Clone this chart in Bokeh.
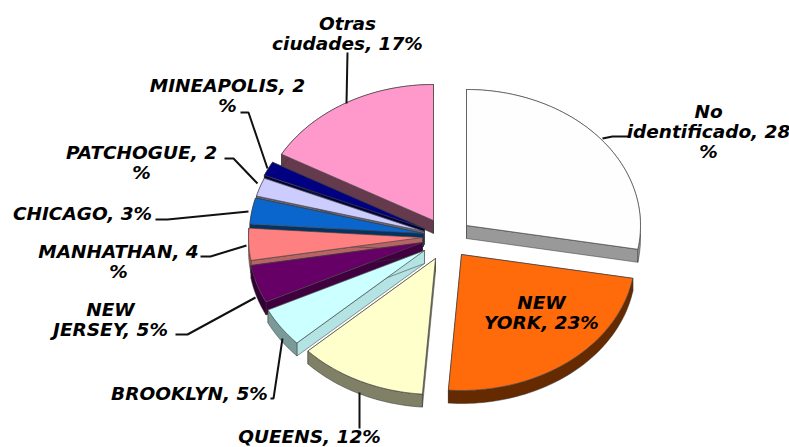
import numpy as np
from bokeh.plotting import figure
from bokeh.models import Range1d, ColumnDataSource
from bokeh.core.properties import value
from bokeh.embed import file_html
from bokeh.resources import INLINE

# data (clockwise from twelve o'clock); unrounded shares
categories = ["No identificado", "NEW YORK", "QUEENS", "BROOKLYN", "NEW JERSEY",
              "MANHATHAN", "CHICAGO", "PATCHOGUE", "MINEAPOLIS", "Otras ciudades"]
values = [27.8, 23.4, 11.9, 4.7, 4.5, 3.8, 3.1, 2.2, 1.7, 16.9]
labels = ["No\nidentificado, 28\n%", "NEW\nYORK, 23%", "QUEENS, 12%", "BROOKLYN, 5%",
          "NEW\nJERSEY, 5%", "MANHATHAN, 4\n%", "CHICAGO, 3%", "PATCHOGUE, 2\n%",
          "MINEAPOLIS, 2\n%", "Otras\nciudades, 17%"]

# style
face_colors = ["#FEFEFE", "#FF6A0A", "#FFFFCC", "#CCFFFF", "#660066",
               "#FF8080", "#0A66CC", "#CCCCFF", "#000080", "#FF99CC"]
side_colors = ["#999999", "#662A00", "#808066", "#7A9999", "#330033",
               "#A85A5A", "#003366", "#66667F", "#00003C", "#663A4D"]
edge_colors = ["#999999", "#662A00", "#808066", "#B3E3E3", "#400040",
               "#B86464", "#003366", "#66667F", "#00003C", "#663A4D"]
apex_x = [466, 461, 435, 424, 422, 422, 423, 424, 424, 433]
apex_y = [225, 254, 258, 250, 242, 237, 233, 231, 228, 220]
draw_order = [9, 8, 7, 6, 5, 4, 3, 2, 1, 0]
RX, RY, DEPTH = 174, 136, 13

label_x = [708, 541, 309, 189, 110, 118, 82, 141, 227, 347]
label_y = [131, 312, 436, 393, 319, 261, 213, 162, 95, 33]
leaders_x = [[602, 612, 628], [], [359, 359], [270, 273, 282], [175, 187, 255],
             [200, 210, 246], [155, 167, 248], [224, 233, 257], [240, 248, 267], [347, 346]]
leaders_y = [[138, 136, 136], [], [428, 392], [398, 398, 338], [334, 334, 297],
             [256, 256, 245], [219, 219, 211], [158, 158, 183], [112, 112, 168], [52, 103]]

p = figure(width=789, height=447, output_backend="svg", toolbar_location=None,
           x_range=Range1d(0, 789), y_range=Range1d(447, 0),
           min_border=0, outline_line_color=None, background_fill_color="white")
p.axis.visible = False
p.grid.visible = False

fractions = np.array(values, dtype=float) / sum(values)
ends = np.cumsum(fractions) * 2 * np.pi
starts = ends - fractions * 2 * np.pi

for i in draw_order:
    a = np.linspace(starts[i], ends[i], 60)
    arc_x = apex_x[i] + RX * np.sin(a)
    arc_y = apex_y[i] - RY * np.cos(a)
    px = np.r_[apex_x[i], arc_x]
    py = np.r_[apex_y[i], arc_y]
    # the two straight cut faces, then the rim
    for ex, ey in (([px[0], px[1]], [py[0], py[1]]), ([px[0], px[-1]], [py[0], py[-1]])):
        p.patch([ex[0], ex[1], ex[1], ex[0]], [ey[0], ey[1], ey[1] + DEPTH, ey[0] + DEPTH],
                fill_color=edge_colors[i], line_color="#333333", line_width=0.5)
    p.patch(np.r_[arc_x, arc_x[::-1]], np.r_[arc_y, arc_y[::-1] + DEPTH],
            fill_color=side_colors[i], line_color="#333333", line_width=0.5)
    p.patch(px, py, fill_color=face_colors[i], line_color="#444444", line_width=0.7)

lx = [x for x in leaders_x if x]
ly = [y for y in leaders_y if y]
p.multi_line(lx, ly, line_color="#111111", line_width=2)

src = ColumnDataSource(dict(x=label_x, y=label_y, t=labels))
p.text("x", "y", text="t", source=src, text_font=value("DejaVu Sans"),
       text_font_style="bold italic", text_font_size="18.5px", text_color="#000000",
       text_align="center", text_baseline="middle", text_line_height=0.95)

open("out.html", "w").write(file_html(p, INLINE))
